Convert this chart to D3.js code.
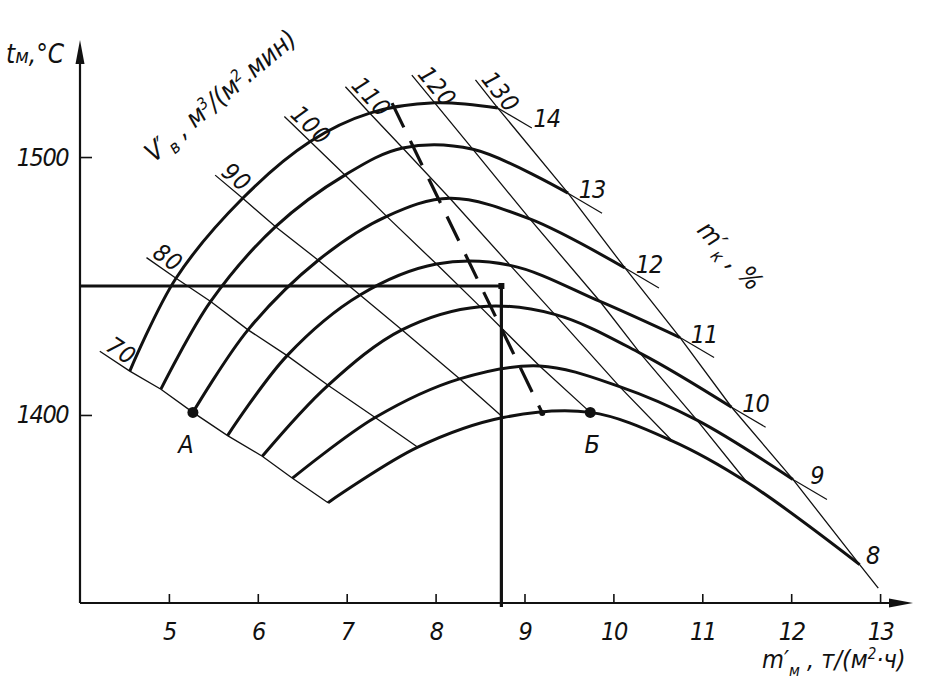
<!DOCTYPE html>
<html><head><meta charset="utf-8">
<script src="https://cdn.jsdelivr.net/npm/d3@7"></script>
<style>
body{margin:0;background:#fff}
svg text{font-family:"Liberation Sans Narrow","DejaVu Sans Condensed","Liberation Sans",sans-serif;font-style:italic;fill:#111}
</style></head><body>
<svg id="chart" width="935" height="679"></svg>
<script>
// ---- data ----
const curveLabels = [14, 13, 12, 11, 10, 9, 8];          // m'к, %  (one bold curve each)
const vLabels = [70, 80, 90, 100, 110, 120, 130];        // V'в, м3/(м2·мин) isolines
// m'м (t/(m2·h)) at the crossing of each curve (rows) with each V'в line (columns)
const mMGrid = [
  [4.56, 5.08, 5.83, 6.59, 7.26, 7.99, 8.70],
  [4.91, 5.47, 6.20, 6.98, 7.63, 8.42, 9.49],
  [5.27, 5.89, 6.68, 7.45, 8.16, 9.06, 10.13],
  [5.66, 6.33, 7.15, 8.01, 8.84, 9.85, 10.75],
  [6.05, 6.79, 7.62, 8.50, 9.34, 10.30, 11.33],
  [6.39, 7.32, 8.27, 9.17, 10.07, 10.94, 12.02],
  [6.79, 7.80, 8.76, 9.74, 10.66, 11.50, 12.77]
];
// tм (°C) at the same crossings
const tMGrid = [
  [1417, 1453, 1484, 1506, 1517, 1521, 1519],
  [1410, 1444, 1473, 1493, 1503.5, 1503, 1486],
  [1401, 1433, 1460, 1477, 1484, 1476, 1457],
  [1392, 1423, 1446.5, 1458.5, 1458, 1444, 1430],
  [1384, 1411.5, 1433, 1442, 1439, 1424, 1403],
  [1375.5, 1399, 1414, 1419, 1411, 1398, 1375],
  [1366, 1387.5, 1399, 1401, 1390, 1374, 1342]
];
const xTicks = [5, 6, 7, 8, 9, 10, 11, 12, 13];
const yTicks = [1400, 1500];
const guideT = 1450;       // horizontal guide
const guideM = 8.74;       // vertical guide
const dashM = [7.51, 9.20];
const dashT = [1520.9, 1400.8];
const pointNames = ["A", "Б"];
const pointM = [5.27, 9.74];
const pointT = [1401, 1401];

// ---- drawing ----
const svg = d3.select("#chart");
const ink = "#111";
const x = d3.scaleLinear().domain([4, 13.35]).range([80, 911.2]);
const y = d3.scaleLinear().domain([1327.1, 1544.6]).range([603, 42]);
const P = (m, t) => [x(m), y(t)];

// axes
const xAxis = svg.append("g").attr("transform", "translate(0,603)")
  .call(d3.axisBottom(x).tickValues(xTicks).tickSizeInner(-9).tickSizeOuter(0).tickPadding(19).tickFormat(d3.format("d")));
const yAxis = svg.append("g").attr("transform", "translate(80,0)")
  .call(d3.axisLeft(y).tickValues(yTicks).tickSizeInner(-12).tickSizeOuter(0).tickPadding(12).tickFormat(d3.format("d")));
[xAxis, yAxis].forEach(g => {
  g.select(".domain").remove();
  g.selectAll(".tick line").attr("stroke", ink).attr("stroke-width", 1.6);
  g.selectAll(".tick text").attr("font-size", 25).attr("fill", ink).attr("letter-spacing", -1.5)
    .style("font-family", '"Liberation Sans Narrow","DejaVu Sans Condensed","Liberation Sans",sans-serif').style("font-style", "italic");
});
svg.append("line").attr("x1", 80).attr("y1", 603).attr("x2", 905).attr("y2", 603).attr("stroke", ink).attr("stroke-width", 2.2);
svg.append("line").attr("x1", 80).attr("y1", 603).attr("x2", 80).attr("y2", 52).attr("stroke", ink).attr("stroke-width", 2.2);
svg.append("path").attr("d", "M913,603 L889,598.5 L889,607.5 Z").attr("fill", ink);
svg.append("path").attr("d", "M80,40 L75.5,64 L84.5,64 Z").attr("fill", ink);

// axis titles
const yt = svg.append("text").attr("x", 6).attr("y", 63).attr("font-size", 26);
yt.append("tspan").text("t");
yt.append("tspan").attr("font-size", 20).text("м");
yt.append("tspan").text(",°C");

const xt = svg.append("text").attr("x", 762).attr("y", 668).attr("font-size", 25);
xt.append("tspan").text("m′");
xt.append("tspan").attr("font-size", 16).attr("dy", 8).text("м");
xt.append("tspan").attr("dy", -8).text(" , т/(м");
xt.append("tspan").attr("font-size", 15).attr("dy", -9).text("2");
xt.append("tspan").attr("dy", 9).text("·ч)");

// V'в title
const vt = svg.append("text").attr("transform", "translate(154,163) rotate(-40)").attr("font-size", 26);
vt.append("tspan").text("V′");
vt.append("tspan").attr("font-size", 18).attr("dy", 7).text("в");
vt.append("tspan").attr("dy", -7).text(" ,  м");
vt.append("tspan").attr("font-size", 16).attr("dy", -9).text("3");
vt.append("tspan").attr("dy", 9).text("/(м");
vt.append("tspan").attr("font-size", 16).attr("dy", -9).text("2");
vt.append("tspan").attr("dy", 9).text(".мин)");

// m'к title
const kt = svg.append("text").attr("transform", "translate(696,231) rotate(48)").attr("font-size", 26);
kt.append("tspan").text("m′");
kt.append("tspan").attr("font-size", 18).attr("dy", 7).text("к");
kt.append("tspan").attr("dy", -7).text(" ,  %");

// V'в isolines (thin)
vLabels.forEach((v, j) => {
  const pts = mMGrid.map((row, i) => P(row[j], tMGrid[i][j]));
  const a = pts[0], b = pts[pts.length - 1];
  const dx = b[0] - a[0], dy = b[1] - a[1], L = Math.hypot(dx, dy);
  const ux = dx / L, uy = dy / L;
  const start = [a[0] - ux * 36, a[1] - uy * 36];
  const all = [start, ...pts];
  if (j === vLabels.length - 1) all.push([b[0] + ux * 30, b[1] + uy * 30]);
  svg.append("path").attr("d", d3.line()(all)).attr("fill", "none").attr("stroke", ink).attr("stroke-width", 1.3);
  const ang = Math.atan2(uy, ux) * 180 / Math.PI;
  svg.append("text").attr("transform", `translate(${start[0]},${start[1]}) rotate(${ang})`)
    .attr("x", 3).attr("y", -4).attr("font-size", 24).attr("letter-spacing", 1).text(v);
});

// bold curves
const lineGen = d3.line().curve(d3.curveCatmullRom.alpha(0.5));
const nudge = {14: [25, 14], 8: [-11, -6]};
curveLabels.forEach((k, i) => {
  const pts = mMGrid[i].map((m, j) => P(m, tMGrid[i][j]));
  svg.append("path").attr("d", lineGen(pts)).attr("fill", "none").attr("stroke", ink).attr("stroke-width", 3);
  const e = pts[pts.length - 1];
  const le = [e[0] + 34, e[1] + 20];
  if (i < curveLabels.length - 1)
    svg.append("line").attr("x1", e[0]).attr("y1", e[1]).attr("x2", le[0]).attr("y2", le[1]).attr("stroke", ink).attr("stroke-width", 1.2);
  const n = nudge[k] || [0, 0];
  svg.append("text").attr("x", le[0] - 10 + n[0]).attr("y", le[1] - 24 + n[1] + 9)
    .attr("text-anchor", "middle").attr("font-size", 25).attr("letter-spacing", -1).text(k);
});

// guide lines
svg.append("line").attr("x1", x(4)).attr("y1", y(guideT)).attr("x2", x(guideM)).attr("y2", y(guideT)).attr("stroke", ink).attr("stroke-width", 3.2);
svg.append("line").attr("x1", x(guideM)).attr("y1", y(guideT)).attr("x2", x(guideM)).attr("y2", 607).attr("stroke", ink).attr("stroke-width", 3.2);
svg.append("rect").attr("x", x(guideM) - 3).attr("y", y(guideT) - 3).attr("width", 6).attr("height", 6).attr("fill", ink);

// dashed line
svg.append("line").attr("x1", x(dashM[0])).attr("y1", y(dashT[0])).attr("x2", x(dashM[1])).attr("y2", y(dashT[1]))
  .attr("stroke", ink).attr("stroke-width", 3.2).attr("stroke-dasharray", "27,15");
svg.append("circle").attr("cx", x(dashM[1])).attr("cy", y(dashT[1])).attr("r", 3).attr("fill", ink);

// marked points
pointNames.forEach((nm, i) => {
  svg.append("circle").attr("cx", x(pointM[i])).attr("cy", y(pointT[i])).attr("r", 5.5).attr("fill", ink);
  svg.append("text").attr("x", x(pointM[i]) + (i === 0 ? -7 : 2)).attr("y", y(pointT[i]) + 41)
    .attr("text-anchor", "middle").attr("font-size", 25).text(nm);
});
</script></body></html>
